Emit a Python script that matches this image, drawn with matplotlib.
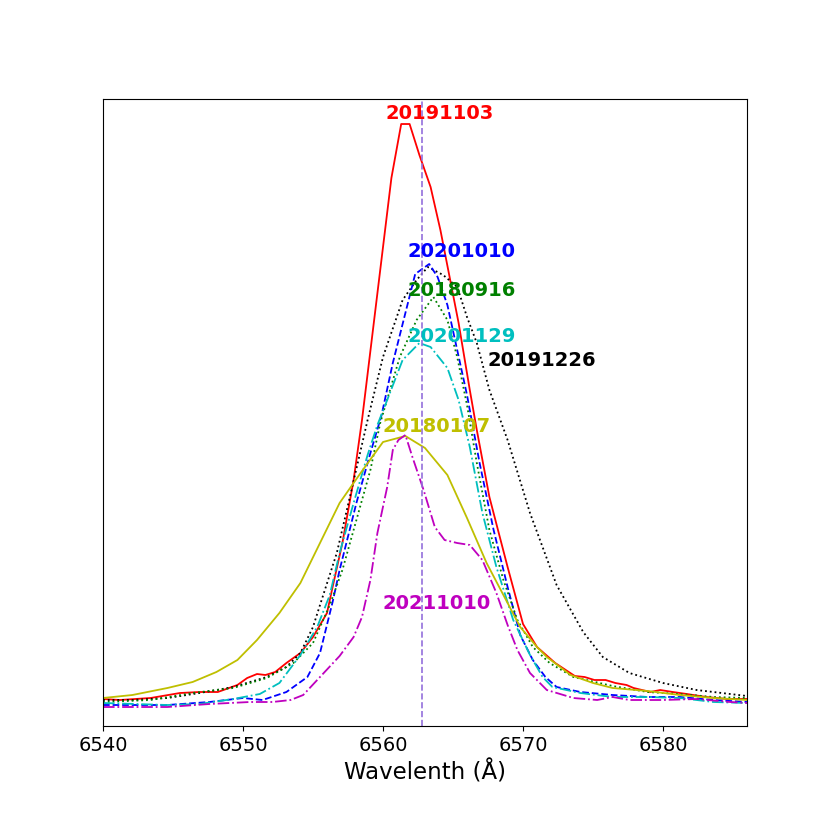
import numpy as np
import matplotlib
matplotlib.use('Agg')
import matplotlib.pyplot as plt

# H-alpha rest wavelength
halpha = 6562.8

# spectra (wavelength in A, normalised flux)
wl_20191103 = [6540.0, 6541.2, 6543.4, 6545.5, 6546.9, 6548.2, 6549.6, 6550.3, 6551.0, 6551.6,
               6552.3, 6553.1, 6554.1, 6555.0, 6556.0, 6556.4, 6557.1, 6557.9, 6558.5,
               6560.6, 6561.3, 6561.9, 6562.6, 6563.4, 6564.1, 6565.4, 6566.2, 6566.7,
               6567.6, 6568.9, 6570.0, 6571.0, 6572.3, 6573.7, 6574.4, 6575.1, 6575.9, 6576.6,
               6577.4, 6577.9, 6579.1, 6579.8, 6580.7, 6581.7, 6583.1, 6584.6, 6586.0]
fl_20191103 = [1.04, 1.03, 1.05, 1.10, 1.11, 1.11, 1.18, 1.25, 1.29, 1.28,
               1.31, 1.40, 1.50, 1.66, 1.90, 2.16, 2.60, 3.23, 3.83,
               6.25, 6.79, 6.79, 6.48, 6.16, 5.73, 4.80, 4.13, 3.73,
               3.06, 2.36, 1.79, 1.56, 1.40, 1.27, 1.26, 1.23, 1.23, 1.20,
               1.18, 1.15, 1.11, 1.13, 1.11, 1.09, 1.06, 1.04, 1.04]

wl_20191226 = [6540.0, 6542.1, 6544.6, 6546.9, 6549.3, 6551.7, 6553.1, 6554.1, 6555.0, 6555.5,
               6556.7, 6557.8, 6558.9, 6560.0, 6561.4, 6562.4, 6563.2, 6564.3, 6565.3, 6566.0,
               6566.7, 6567.6, 6568.9, 6570.5, 6572.4, 6574.3, 6575.7, 6577.6, 6580.0, 6582.4,
               6586.0]
fl_20191226 = [1.03, 1.03, 1.05, 1.10, 1.16, 1.26, 1.36, 1.50, 1.76, 1.98,
               2.50, 3.16, 3.83, 4.46, 5.03, 5.23, 5.36, 5.28, 5.16, 4.86,
               4.60, 4.13, 3.63, 2.90, 2.18, 1.71, 1.46, 1.30, 1.20, 1.13,
               1.07]

wl_20201010 = [6540.0, 6544.6, 6547.6, 6550.0, 6551.4, 6553.1, 6554.6, 6555.5, 6556.4, 6556.9,
               6558.1, 6559.1, 6559.9, 6560.7, 6562.3, 6563.3, 6563.9, 6564.6, 6565.3, 6566.0,
               6566.9, 6567.9, 6568.9, 6569.8, 6570.7, 6571.6, 6572.4, 6574.1, 6576.4, 6578.9,
               6581.2, 6583.6, 6586.0]
fl_20201010 = [0.98, 0.98, 1.01, 1.05, 1.03, 1.11, 1.26, 1.50, 2.01, 2.33,
               3.00, 3.50, 3.88, 4.40, 5.29, 5.39, 5.26, 4.98, 4.53, 4.08,
               3.40, 2.73, 2.16, 1.68, 1.43, 1.26, 1.16, 1.11, 1.08, 1.06,
               1.06, 1.03, 1.01]

wl_20180916 = [6540.0, 6543.4, 6546.4, 6549.3, 6551.7, 6553.6, 6555.0, 6556.2, 6557.1, 6558.1,
               6559.1, 6559.8, 6561.2, 6562.4, 6563.6, 6564.6, 6565.3, 6566.0, 6566.7, 6567.6,
               6568.6, 6569.6, 6570.7, 6571.9, 6573.6, 6576.4, 6578.9, 6581.2, 6583.6, 6586.0]
fl_20180916 = [1.01, 1.03, 1.10, 1.15, 1.25, 1.40, 1.60, 1.98, 2.33, 2.83,
               3.33, 3.80, 4.46, 4.83, 5.06, 4.83, 4.46, 3.98, 3.40, 2.73,
               2.23, 1.83, 1.56, 1.40, 1.26, 1.17, 1.11, 1.09, 1.06, 1.05]

wl_20201129 = [6540.0, 6544.6, 6546.9, 6549.3, 6551.2, 6552.6, 6554.1, 6555.3, 6556.2, 6556.9,
               6557.9, 6558.9, 6559.6, 6560.3, 6561.4, 6562.6, 6563.4, 6564.6, 6565.4, 6566.2,
               6567.1, 6568.1, 6569.3, 6570.5, 6571.4, 6572.1, 6574.1, 6576.4, 6578.9, 6581.2,
               6583.6, 6586.0]
fl_20201129 = [1.00, 0.98, 0.99, 1.04, 1.09, 1.20, 1.48, 1.76, 2.08, 2.50,
               3.00, 3.48, 3.78, 4.03, 4.43, 4.60, 4.56, 4.35, 4.03, 3.56,
               2.90, 2.36, 1.83, 1.48, 1.26, 1.16, 1.10, 1.06, 1.06, 1.05,
               1.01, 1.00]

wl_20180107 = [6540.0, 6542.1, 6544.6, 6546.4, 6548.1, 6549.6, 6551.0, 6552.6, 6554.1,
               6555.5, 6556.9, 6558.4, 6560.0, 6561.6, 6563.0, 6564.6, 6566.0, 6567.4,
               6568.9, 6569.8, 6571.0, 6571.7, 6573.4, 6575.0, 6576.4, 6578.9, 6581.2, 6583.6,
               6586.0]
fl_20180107 = [1.05, 1.08, 1.15, 1.21, 1.31, 1.43, 1.63, 1.90, 2.20,
               2.60, 3.00, 3.30, 3.61, 3.67, 3.55, 3.28, 2.85, 2.40,
               2.00, 1.76, 1.56, 1.46, 1.28, 1.20, 1.15, 1.12, 1.08, 1.05,
               1.03]

wl_20211010 = [6540.0, 6544.6, 6547.6, 6550.5, 6552.1, 6553.4, 6554.3, 6555.5, 6556.9, 6557.9,
               6558.5, 6559.1, 6559.6, 6560.3, 6560.7, 6561.1, 6561.6, 6562.1, 6562.9, 6563.7,
               6564.4, 6565.3, 6566.2, 6567.1, 6568.1, 6568.9, 6569.6, 6570.5, 6571.7, 6573.6,
               6575.3, 6576.4, 6577.6, 6580.0, 6582.4, 6584.8, 6586.0]
fl_20211010 = [0.96, 0.96, 0.99, 1.01, 1.01, 1.03, 1.08, 1.26, 1.47, 1.66,
               1.86, 2.23, 2.70, 3.16, 3.53, 3.63, 3.68, 3.46, 3.13, 2.76,
               2.63, 2.60, 2.58, 2.43, 2.10, 1.78, 1.53, 1.30, 1.13, 1.05,
               1.03, 1.06, 1.03, 1.03, 1.04, 1.01, 1.00]

# label positions (wavelength, flux)
labels = ['20191103', '20201010', '20180916', '20201129', '20191226', '20180107', '20211010']
label_x = [6564.07, 6565.64, 6565.64, 6565.64, 6571.36, 6563.86, 6563.86]
label_y = [6.90, 5.52, 5.13, 4.67, 4.43, 3.77, 2.00]
label_c = ['r', 'b', 'g', 'c', 'k', 'y', 'm']

fig = plt.figure(figsize=(8.3, 8.3), dpi=100)
ax = fig.add_axes([0.1241, 0.1253, 0.7759, 0.7554])

lw = 1.3
ax.plot(wl_20191103, fl_20191103, 'r-', lw=lw)
ax.plot(wl_20191226, fl_20191226, 'k:', lw=lw)
ax.plot(wl_20201010, fl_20201010, 'b--', lw=lw)
ax.plot(wl_20180916, fl_20180916, 'g:', lw=lw)
ax.plot(wl_20201129, fl_20201129, 'c-.', lw=lw)
ax.plot(wl_20180107, fl_20180107, 'y-', lw=lw)
ax.plot(wl_20211010, fl_20211010, 'm-.', lw=lw)

ax.axvline(halpha, color='mediumpurple', ls='--', lw=1.2)

for lab, x, y, c in zip(labels, label_x, label_y, label_c):
    ax.text(x, y, lab, color=c, fontsize=14, fontweight='bold', ha='center', va='center')

ax.set_xlim(6540, 6586)
ax.set_ylim(0.77, 7.04)
ax.set_yticks([])
ax.set_xticks([6540, 6550, 6560, 6570, 6580])
ax.tick_params(axis='x', labelsize=14)
ax.set_xlabel('Wavelenth (Å)', fontsize=16.5)

fig.savefig('out.png', dpi=100)
